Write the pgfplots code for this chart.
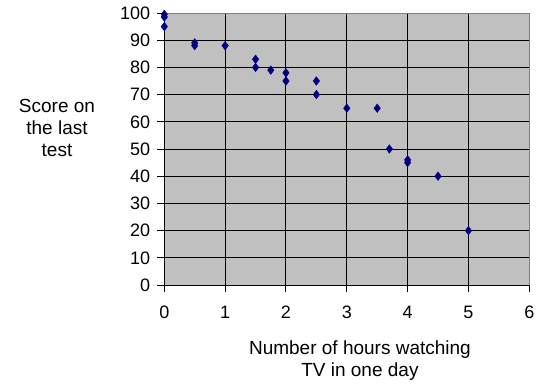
\documentclass[border=0pt]{standalone}
\usepackage{pgfplots}
\pgfplotsset{compat=1.18}
\usepackage{fontspec}
\setmainfont{Liberation Sans}
\definecolor{bgGrey}{HTML}{C0C0C0}
\definecolor{bdGrey}{HTML}{808080}
\definecolor{navyM}{HTML}{000080}
\begin{document}
\begin{tikzpicture}
\useasboundingbox (0,0) rectangle (538pt,384pt);
\begin{axis}[
  at={(164.3pt,99pt)}, anchor=south west,
  scale only axis, width=365pt, height=272pt,
  xmin=0, xmax=6, ymin=0, ymax=100,
  xtick={0,1,2,3,4,5,6}, ytick={0,10,...,100},
  axis x line*=bottom, axis y line*=left,
  axis line style={black, line width=1pt, -},
  tick align=outside, major tick length=7pt,
  every tick/.style={black, line width=1pt},
  grid=major, major grid style={black, line width=1pt},
  axis background/.style={fill=bgGrey},
  clip=false,
  /pgf/number format/assume math mode=true,
  ticklabel style={font=\fontsize{18}{21.7}\selectfont},
  yticklabel style={inner sep=0pt, xshift=-7pt},
  xticklabel style={inner sep=0pt, yshift=-14pt},
  xlabel={Number of hours watching\\TV in one day},
  ylabel={Score on\\the last\\test},
  label style={font=\fontsize{19}{21.7}\selectfont, align=center, inner sep=0pt},
  xlabel style={at={(axis description cs:0.536,-0.205)}, anchor=north},
  ylabel style={at={(axis description cs:-0.294,0.577)}, anchor=center, rotate=-90},
]
\draw[bdGrey, line width=1pt] (rel axis cs:0,1) -- (rel axis cs:1,1) -- (rel axis cs:1,0);
\addplot[only marks, mark=diamond*, mark size=4.3pt, navyM, mark options={fill=navyM, draw=navyM}]
coordinates {
(0,99.5) (0,98.5) (0,95)
(0.5,89) (0.5,88) (1,88)
(1.5,83) (1.5,80) (1.75,79)
(2,78) (2,75) (2.5,75) (2.5,70)
(3,65) (3.5,65) (3.7,50)
(4,46) (4,45) (4.5,40) (5,20)
};
\end{axis}
\end{tikzpicture}
\end{document}
